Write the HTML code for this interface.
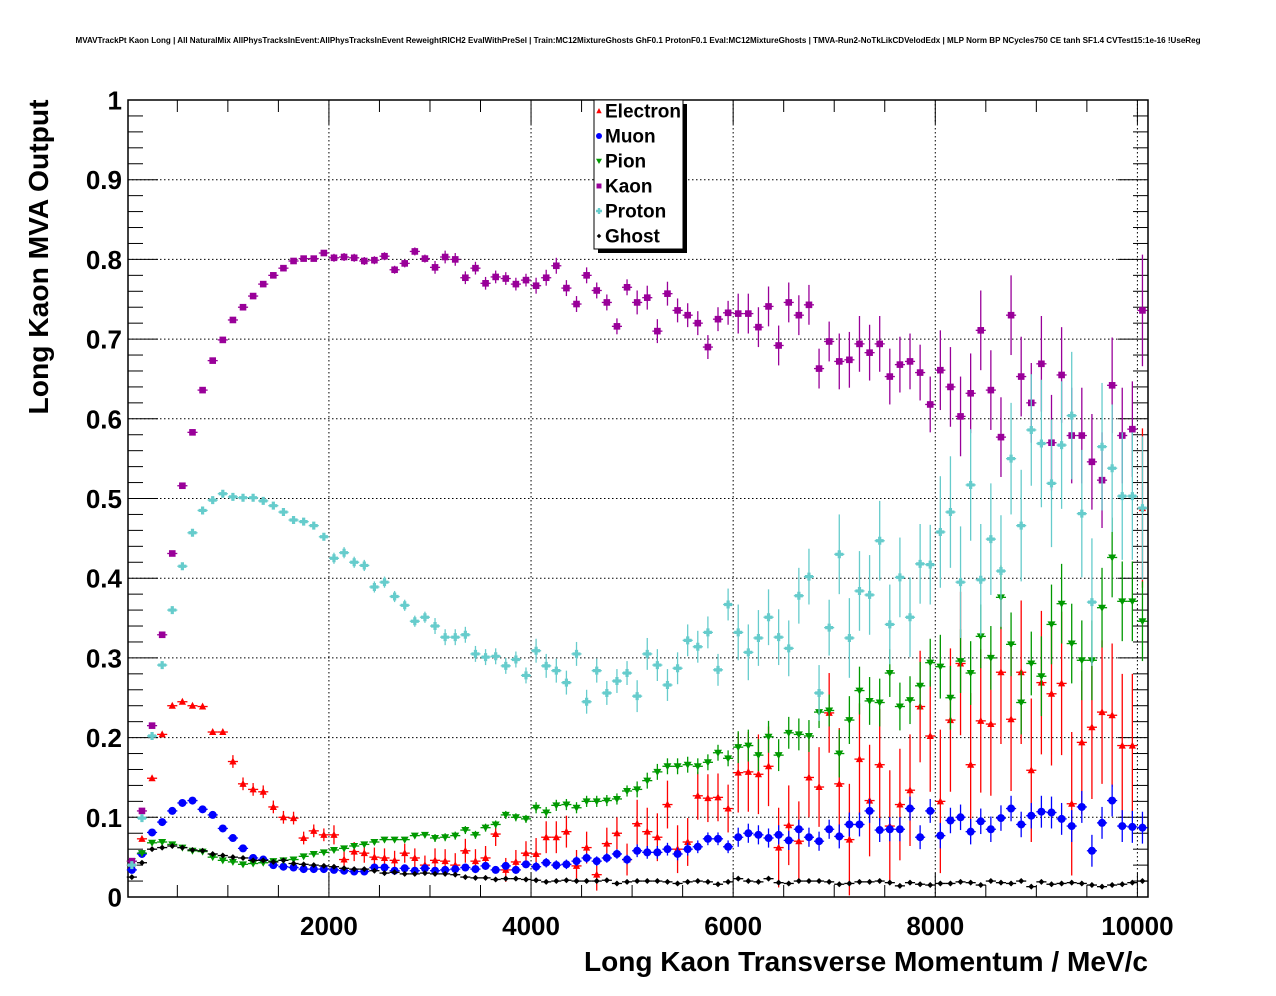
<!DOCTYPE html>
<html><head><meta charset="utf-8">
<style>
html,body{margin:0;padding:0;background:#fff;}
svg{display:block;font-family:"Liberation Sans",Arial,sans-serif;}
</style></head>
<body>
<svg id="chart" width="1276" height="996" viewBox="0 0 1276 996" xmlns="http://www.w3.org/2000/svg">
<rect x="0" y="0" width="1276" height="996" fill="#fff"/>
<text x="638" y="43" text-anchor="middle" font-size="7.9" font-weight="bold" textLength="1125" lengthAdjust="spacingAndGlyphs">MVAVTrackPt Kaon Long | All NaturalMix AllPhysTracksInEvent:AllPhysTracksInEvent ReweightRICH2 EvalWithPreSel | Train:MC12MixtureGhosts GhF0.1 ProtonF0.1 Eval:MC12MixtureGhosts | TMVA-Run2-NoTkLikCDVelodEdx | MLP Norm BP NCycles750 CE tanh SF1.4 CVTest15:1e-16 !UseReg</text>
<g id="grid"></g>
<g id="axes"></g>
<g id="series"></g>
<text x="0" y="0" transform="translate(48,257) rotate(-90)" text-anchor="middle" font-size="28" font-weight="bold" textLength="315" lengthAdjust="spacingAndGlyphs">Long Kaon MVA Output</text>
<text x="1148" y="971" text-anchor="end" font-size="28" font-weight="bold" textLength="564" lengthAdjust="spacingAndGlyphs">Long Kaon Transverse Momentum / MeV/c</text>
<g id="legend"></g>
</svg>
<script>
const xTicks = [2000, 4000, 6000, 8000, 10000];
const yTicks = [0, 0.1, 0.2, 0.3, 0.4, 0.5, 0.6, 0.7, 0.8, 0.9, 1];
const yTickLabels = ["0","0.1","0.2","0.3","0.4","0.5","0.6","0.7","0.8","0.9","1"];
const binWidth = 100;
const binCount = 101;

const electron = [0.040,0.073,0.149,0.204,0.240,0.245,0.240,0.239,0.207,0.207,0.170,0.142,0.135,0.132,0.113,0.100,0.099,0.074,0.083,0.078,0.078,0.047,0.057,0.055,0.050,0.049,0.046,0.055,0.049,0.040,0.046,0.045,0.040,0.058,0.045,0.049,0.079,0.034,0.044,0.055,
0.054,0.075,0.075,0.082,0.039,0.062,0.028,0.067,0.080,0.047,0.092,0.082,0.075,0.116,0.060,0.069,0.127,0.124,0.125,0.111,0.156,0.157,0.154,0.164,0.062,0.090,0.070,0.150,0.138,0.231,0.142,0.072,0.173,0.121,0.166,0.089,0.116,0.134,0.239,0.202,0.120,0.222,0.293,0.166,0.221,0.217,0.282,0.223,0.282,0.159,0.269,0.255,0.268,0.117,0.194,0.213,0.232,0.228,0.190,0.190,0.488];
const muon = [0.034,0.054,0.081,0.094,0.108,0.118,0.121,0.110,0.103,0.086,0.074,0.061,0.049,0.047,0.040,0.038,0.037,0.035,0.035,0.035,0.034,0.033,0.032,0.032,0.037,0.037,0.033,0.036,0.033,0.036,0.033,0.034,0.035,0.037,0.035,0.039,0.034,0.039,0.034,0.041,
0.038,0.043,0.040,0.041,0.045,0.049,0.045,0.049,0.054,0.047,0.058,0.056,0.056,0.060,0.054,0.060,0.063,0.073,0.073,0.063,0.075,0.080,0.078,0.074,0.078,0.071,0.085,0.075,0.070,0.085,0.076,0.091,0.091,0.108,0.084,0.085,0.085,0.111,0.075,0.108,0.077,0.096,0.100,0.082,0.095,0.085,0.099,0.111,0.091,0.102,0.107,0.106,0.098,0.089,0.113,0.058,0.093,0.121,0.089,0.088,0.087];
const pion = [0.045,0.055,0.068,0.069,0.066,0.062,0.058,0.057,0.050,0.046,0.044,0.041,0.042,0.043,0.045,0.046,0.047,0.051,0.054,0.056,0.059,0.061,0.064,0.066,0.069,0.072,0.072,0.072,0.077,0.078,0.074,0.075,0.077,0.084,0.078,0.087,0.091,0.103,0.100,0.098,
0.112,0.106,0.115,0.116,0.112,0.120,0.120,0.121,0.123,0.133,0.135,0.146,0.157,0.164,0.164,0.166,0.164,0.169,0.181,0.174,0.188,0.190,0.178,0.201,0.178,0.206,0.204,0.202,0.232,0.234,0.180,0.222,0.259,0.246,0.244,0.281,0.239,0.247,0.265,0.294,0.289,0.250,0.296,0.281,0.327,0.300,0.376,0.317,0.244,0.293,0.277,0.342,0.368,0.318,0.297,0.297,0.363,0.426,0.371,0.371,0.346];
const kaon = [0.045,0.108,0.215,0.329,0.431,0.516,0.583,0.636,0.673,0.699,0.724,0.740,0.754,0.769,0.780,0.789,0.798,0.801,0.801,0.808,0.802,0.803,0.802,0.798,0.799,0.804,0.787,0.795,0.810,0.801,0.790,0.803,0.800,0.777,0.789,0.770,0.778,0.776,0.769,0.774,
0.767,0.777,0.792,0.764,0.744,0.780,0.761,0.746,0.716,0.765,0.746,0.752,0.710,0.757,0.736,0.730,0.720,0.690,0.725,0.733,0.732,0.732,0.715,0.741,0.692,0.746,0.730,0.743,0.663,0.697,0.672,0.674,0.694,0.683,0.694,0.653,0.668,0.672,0.658,0.618,0.661,0.640,0.603,0.632,0.711,0.636,0.577,0.730,0.653,0.620,0.669,0.570,0.655,0.579,0.579,0.546,0.523,0.642,0.579,0.587,0.736];
const proton = [0.040,0.099,0.202,0.291,0.360,0.415,0.457,0.485,0.498,0.506,0.502,0.501,0.501,0.497,0.491,0.483,0.473,0.471,0.466,0.452,0.425,0.432,0.420,0.416,0.389,0.395,0.377,0.366,0.346,0.351,0.340,0.326,0.326,0.329,0.305,0.301,0.302,0.290,0.298,0.278,
0.309,0.290,0.284,0.269,0.305,0.245,0.284,0.256,0.271,0.281,0.252,0.305,0.291,0.266,0.287,0.322,0.314,0.332,0.285,0.367,0.332,0.307,0.325,0.351,0.326,0.312,0.378,0.402,0.256,0.338,0.430,0.325,0.384,0.379,0.447,0.342,0.401,0.351,0.418,0.417,0.458,0.483,0.395,0.517,0.398,0.449,0.409,0.550,0.466,0.586,0.569,0.519,0.567,0.604,0.481,0.370,0.565,0.538,0.503,0.503,0.488];
const ghost = [0.025,0.043,0.060,0.062,0.064,0.062,0.059,0.058,0.054,0.052,0.050,0.049,0.046,0.046,0.044,0.046,0.042,0.041,0.040,0.039,0.038,0.036,0.035,0.035,0.033,0.030,0.031,0.029,0.029,0.030,0.029,0.029,0.028,0.025,0.024,0.024,0.022,0.023,0.023,0.022,
0.021,0.019,0.020,0.021,0.020,0.020,0.020,0.021,0.017,0.019,0.020,0.020,0.020,0.019,0.017,0.019,0.020,0.019,0.016,0.019,0.023,0.020,0.019,0.023,0.018,0.017,0.020,0.020,0.020,0.019,0.016,0.017,0.019,0.019,0.020,0.018,0.014,0.018,0.016,0.015,0.017,0.017,0.019,0.018,0.015,0.020,0.018,0.017,0.020,0.013,0.019,0.016,0.017,0.018,0.017,0.015,0.013,0.015,0.016,0.018,0.020];

// approximate error half-widths per 1000 MeV block
const electronErr = [0.003,0.008,0.012,0.015,0.02,0.03,0.05,0.07,0.09,0.09,0.1];
const muonErr = [0.001,0.002,0.003,0.004,0.006,0.008,0.012,0.015,0.016,0.02,0.02];
const pionErr = [0.001,0.002,0.003,0.005,0.007,0.01,0.02,0.03,0.04,0.05,0.05];
const kaonErr = [0.002,0.003,0.005,0.008,0.01,0.015,0.025,0.035,0.05,0.06,0.07];
const protonErr = [0.002,0.004,0.007,0.01,0.015,0.02,0.035,0.05,0.07,0.08,0.09];
const ghostErr = [0.001,0.001,0.001,0.002,0.002,0.002,0.002,0.003,0.003,0.003,0.003];

const seriesNames = ["Electron","Muon","Pion","Kaon","Proton","Ghost"];

const NS = "http://www.w3.org/2000/svg";
const X0 = 126.8, PXPER = 0.10106, Y0 = 897, YT = 100, XL = 128, XR = 1148;
function xs(v){ return X0 + v*PXPER; }
function ys(v){ return Y0 - v*(Y0-YT); }
function mk(tag, attrs, parent){ const e=document.createElementNS(NS,tag); for(const k in attrs) e.setAttribute(k,attrs[k]); parent.appendChild(e); return e; }

const grid=document.getElementById('grid'), axes=document.getElementById('axes'), ser=document.getElementById('series'), leg=document.getElementById('legend');

yTicks.forEach((t,i)=>{
  if(t>0 && t<1){
    const l=mk('line',{x1:XL,x2:XR,y1:ys(t),y2:ys(t),stroke:'#000','stroke-width':1,'stroke-dasharray':'1.5,2.5'},grid);
    
    
  }
  const tx=mk('text',{x:122,y:ys(t)+9.5,'text-anchor':'end','font-size':26,'font-weight':'bold'},axes);
  tx.textContent=yTickLabels[i];
  
  
});
xTicks.forEach(t=>{
  if(xs(t)<XR-3){
    const l=mk('line',{x1:xs(t),x2:xs(t),y1:YT,y2:Y0,stroke:'#000','stroke-width':1,'stroke-dasharray':'1.5,2.5'},grid);
    
    
  }
  const tx=mk('text',{x:xs(t),y:935,'text-anchor':'middle','font-size':26,'font-weight':'bold'},axes);
  tx.textContent=String(t);
  
  
});
// ticks
for(let k=0;k<=50;k++){
  const v=k*0.02, major=(k%5===0), len=major?30:15;
  mk('line',{x1:XL,x2:XL+len,y1:ys(v),y2:ys(v),stroke:'#000','stroke-width':1},axes);
  mk('line',{x1:XR,x2:XR-len,y1:ys(v),y2:ys(v),stroke:'#000','stroke-width':1},axes);
}
for(let m=500;m<=10000;m+=500){
  const major=(m%2000===0), len=major?24:12;
  mk('line',{x1:xs(m),x2:xs(m),y1:Y0,y2:Y0-len,stroke:'#000','stroke-width':1},axes);
  mk('line',{x1:xs(m),x2:xs(m),y1:YT,y2:YT+len,stroke:'#000','stroke-width':1},axes);
}
const frame=mk('rect',{x:XL,y:YT,width:XR-XL,height:Y0-YT,fill:'none',stroke:'#000','stroke-width':1.5},axes);



function marker(type,cx,cy,color,parent,sz){
  sz=sz||1;
  if(type==='tri-up') return mk('polygon',{points:`${cx},${cy-4*sz} ${cx-3.6*sz},${cy+3*sz} ${cx+3.6*sz},${cy+3*sz}`,fill:color},parent);
  if(type==='tri-down') return mk('polygon',{points:`${cx},${cy+4*sz} ${cx-4*sz},${cy-3*sz} ${cx+4*sz},${cy-3*sz}`,fill:color},parent);
  if(type==='circle') return mk('circle',{cx:cx,cy:cy,r:4*sz,fill:color},parent);
  if(type==='square') return mk('rect',{x:cx-3.3*sz,y:cy-3.3*sz,width:6.6*sz,height:6.6*sz,fill:color},parent);
  if(type==='cross') return mk('path',{d:`M${cx-1.6*sz},${cy-4*sz}h${3.2*sz}v${2.4*sz}h${2.4*sz}v${3.2*sz}h${-2.4*sz}v${2.4*sz}h${-3.2*sz}v${-2.4*sz}h${-2.4*sz}v${-3.2*sz}h${2.4*sz}z`,fill:color},parent);
  return mk('path',{d:`M${cx},${cy-3*sz}L${cx+3*sz},${cy}L${cx},${cy+3*sz}L${cx-3*sz},${cy}Z`,fill:color},parent);
}

const defs=[
  {name:'electron',vals:electron,err:electronErr,color:'#ff0000',type:'tri-up'},
  {name:'muon',vals:muon,err:muonErr,color:'#0000ff',type:'circle'},
  {name:'pion',vals:pion,err:pionErr,color:'#009900',type:'tri-down'},
  {name:'kaon',vals:kaon,err:kaonErr,color:'#990099',type:'square'},
  {name:'proton',vals:proton,err:protonErr,color:'#66cccc',type:'cross'},
  {name:'ghost',vals:ghost,err:ghostErr,color:'#000000',type:'diamond'}
];
defs.forEach(d=>{
  const g=mk('g',{},ser);
  
  
  d.vals.forEach((v,i)=>{
    const c=binWidth*i+binWidth/2, cx=xs(c), cy=ys(v);
    const e=d.err[Math.min(d.err.length-1,Math.floor(c/1000))];
    mk('line',{x1:xs(c-binWidth/2),x2:xs(c+binWidth/2),y1:cy,y2:cy,stroke:d.color,'stroke-width':1.3},g);
    mk('line',{x1:cx,x2:cx,y1:ys(v+e),y2:ys(v-e),stroke:d.color,'stroke-width':1.3},g);
    const m=marker(d.type,cx,cy,d.color,g,1);
    
    
  });
});

// legend
mk('rect',{x:598,y:104,width:89,height:149,fill:'#000'},leg);
const lb=mk('rect',{x:594,y:100,width:89,height:149,fill:'#fff',stroke:'#000','stroke-width':1},leg);


seriesNames.forEach((n,i)=>{
  const cy=111+25*i;
  const g=mk('g',{},leg);
  
  
  marker(defs[i].type,599,cy,defs[i].color,g,0.75);
  const t=mk('text',{x:605,y:cy+6.5,'font-size':19,'font-weight':'bold'},g);
  t.textContent=n;
});
</script>
</body></html>
